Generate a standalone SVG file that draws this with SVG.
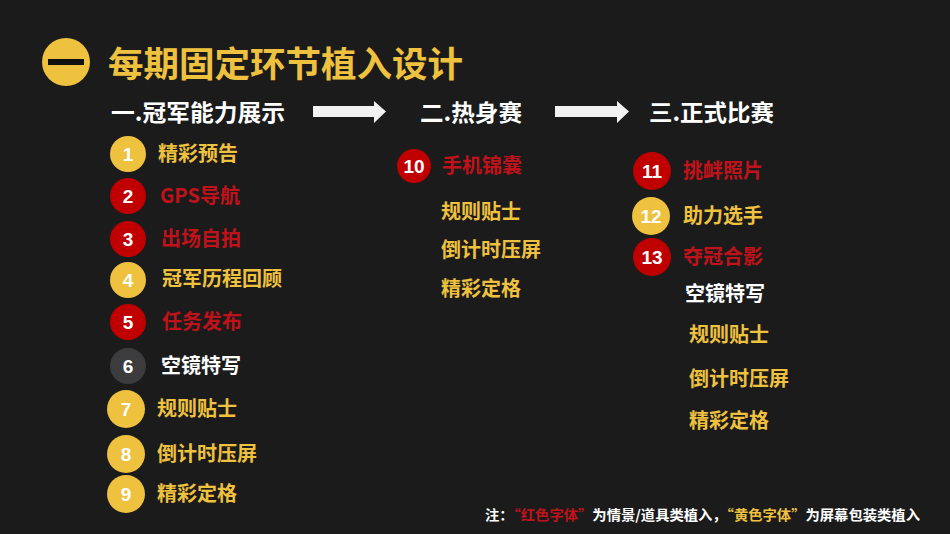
<svg xmlns="http://www.w3.org/2000/svg" width="950" height="534" viewBox="0 0 950 534">
<defs>
<style>
text{font-family:"Noto Sans CJK SC","Noto Sans",sans-serif;font-weight:bold}
.y{fill:#eec13f}
.r{fill:#c0121a}
.w{fill:#ffffff}
.it{font-size:20px}
.hd{font-size:23px;fill:#ffffff}
.num{font-family:"Liberation Sans","Noto Sans",sans-serif;font-size:19px;fill:#ffffff;text-anchor:middle}
.cy{fill:#eec13f}
.cr{fill:#c00000}
.cg{fill:#3c3c3e}
.arr{fill:#f2f2f2}
</style>
</defs>
<rect width="950" height="534" fill="#1b1b1b"/>
<g id="title">
<circle cx="66" cy="62" r="24" fill="#eec13f"/>
<rect x="48" y="59" width="36" height="6" fill="#111"/>
<text x="108" y="77" font-size="35" class="y" textLength="355" lengthAdjust="spacingAndGlyphs">每期固定环节植入设计</text>
</g>
<g id="headers">
<text x="111" y="121" class="hd" textLength="174" lengthAdjust="spacingAndGlyphs">一.冠军能力展示</text>
<text x="420" y="121" class="hd" textLength="102" lengthAdjust="spacingAndGlyphs">二.热身赛</text>
<text x="649" y="121" class="hd" textLength="125" lengthAdjust="spacingAndGlyphs">三.正式比赛</text>
</g>
<g id="connectors">
<polygon class="arr" points="313,106 374,106 374,101 386,111.5 374,123 374,117 313,117"/>
<polygon class="arr" points="555,106 617,106 617,101 629,111.5 617,123 617,117 555,117"/>
</g>
<g id="n1"><circle class="cy" cx="128" cy="154" r="18"/><text class="num" x="128" y="161">1</text><text class="it y" x="158" y="161">精彩预告</text></g>
<g id="n2"><circle class="cr" cx="128" cy="196" r="18"/><text class="num" x="128" y="203">2</text><text class="it r" x="160" y="203">GPS导航</text></g>
<g id="n3"><circle class="cr" cx="128" cy="239" r="18"/><text class="num" x="128" y="246">3</text><text class="it r" x="161" y="246">出场自拍</text></g>
<g id="n4"><circle class="cy" cx="128" cy="280" r="18"/><text class="num" x="128" y="287">4</text><text class="it y" x="162" y="286">冠军历程回顾</text></g>
<g id="n5"><circle class="cr" cx="128" cy="322" r="18"/><text class="num" x="128" y="329">5</text><text class="it r" x="162" y="329">任务发布</text></g>
<g id="n6"><circle class="cg" cx="128" cy="366" r="18"/><text class="num" x="128" y="373">6</text><text class="it w" x="161" y="373">空镜特写</text></g>
<g id="n7"><circle class="cy" cx="126" cy="409" r="19"/><text class="num" x="126" y="416">7</text><text class="it y" x="157" y="416">规则贴士</text></g>
<g id="n8"><circle class="cy" cx="126" cy="454" r="19"/><text class="num" x="126" y="461">8</text><text class="it y" x="157" y="461">倒计时压屏</text></g>
<g id="n9"><circle class="cy" cx="126" cy="494" r="19"/><text class="num" x="126" y="501">9</text><text class="it y" x="157" y="501">精彩定格</text></g>
<g id="n10"><circle class="cr" cx="414" cy="166" r="17"/><text class="num" x="414" y="173">10</text><text class="it r" x="442" y="173">手机锦囊</text></g>
<g id="m1"><text class="it y" x="441" y="219">规则贴士</text></g>
<g id="m2"><text class="it y" x="441" y="257">倒计时压屏</text></g>
<g id="m3"><text class="it y" x="441" y="296">精彩定格</text></g>
<g id="n11"><circle class="cr" cx="652" cy="171" r="19"/><text class="num" x="652" y="178">11</text><text class="it r" x="683" y="178">挑衅照片</text></g>
<g id="n12"><circle class="cy" cx="651" cy="216" r="19"/><text class="num" x="651" y="223">12</text><text class="it y" x="683" y="223">助力选手</text></g>
<g id="n13"><circle class="cr" cx="652" cy="257" r="19"/><text class="num" x="652" y="264">13</text><text class="it r" x="683" y="264">夺冠合影</text></g>
<g id="r1"><text class="it w" x="685" y="301">空镜特写</text></g>
<g id="r2"><text class="it y" x="689" y="342">规则贴士</text></g>
<g id="r3"><text class="it y" x="689" y="386">倒计时压屏</text></g>
<g id="r4"><text class="it y" x="689" y="428">精彩定格</text></g>
<g id="note"><text x="485" y="520" font-size="14" class="w" textLength="435" lengthAdjust="spacingAndGlyphs">注：<tspan class="r">“红色字体”</tspan>为情景/道具类植入，<tspan class="y">“黄色字体”</tspan>为屏幕包装类植入</text></g>
</svg>
